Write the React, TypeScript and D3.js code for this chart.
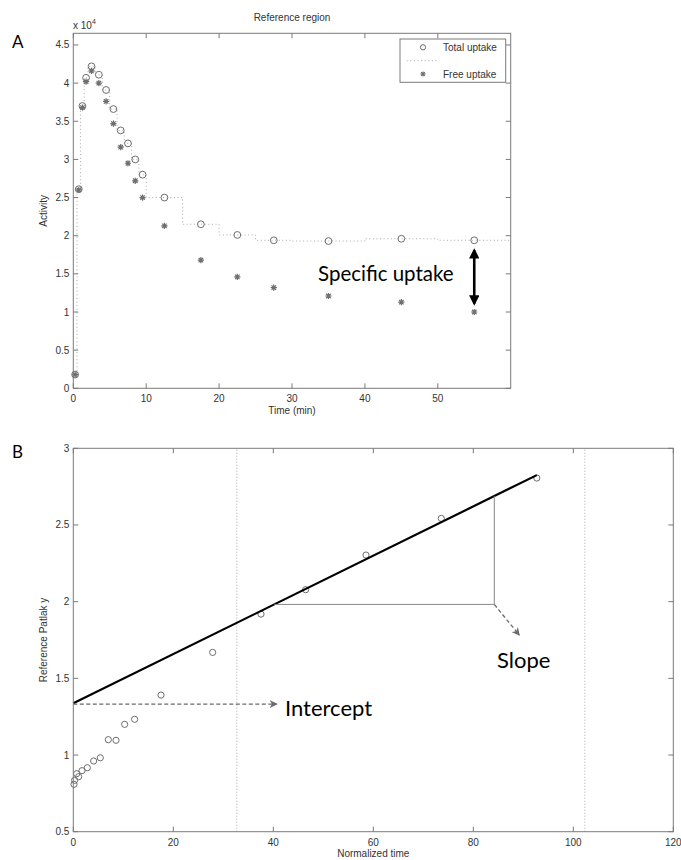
import React from 'react';
import * as d3 from 'd3';

// ---- panel A: reference region time-activity curve ----
const frameMid = [0.25, 0.75, 1.25, 1.75, 2.5, 3.5, 4.5, 5.5, 6.5, 7.5, 8.5, 9.5, 12.5, 17.5, 22.5, 27.5, 35, 45, 55];
const frameEdges = [0, 0.5, 1, 1.5, 2, 3, 4, 5, 6, 7, 8, 9, 10, 15, 20, 25, 30, 40, 50, 60];
const totalUptake = [1800, 26100, 37000, 40700, 42200, 41100, 39100, 36600, 33800, 32100, 30000, 28000, 25000, 21500, 20100, 19400, 19300, 19600, 19400];
const freeUptake = [1800, 26000, 36800, 40200, 41600, 40000, 37600, 34700, 31600, 29500, 27200, 25000, 21300, 16800, 14600, 13200, 12100, 11300, 10000];
const activityTicks = [0, 5000, 10000, 15000, 20000, 25000, 30000, 35000, 40000, 45000];
const timeTicks = [0, 10, 20, 30, 40, 50];
const specificAt = 55;
const specificRange = [18100, 11100];

// ---- panel B: reference Patlak plot ----
const normTime = [0.14, 0.27, 0.67, 1.07, 1.74, 2.8, 4.07, 5.4, 7.0, 8.54, 10.27, 12.27, 17.54, 27.87, 37.54, 46.47, 58.54, 73.6, 92.7];
const patlakY = [0.809, 0.835, 0.878, 0.859, 0.898, 0.917, 0.961, 0.982, 1.1, 1.096, 1.2, 1.233, 1.391, 1.669, 1.919, 2.078, 2.304, 2.543, 2.806];
const fitX = [0, 92.7];
const fitY = [1.337, 2.825];
const windowX = [32.7, 102.3];
const slopeX = [40.2, 84.2];
const slopeY = [1.982, 2.688];
const slopeArrowEnd = [89.2, 1.782];
const interceptArrow = [0, 40.7, 1.332];
const normTicks = [0, 20, 40, 60, 80, 100, 120];
const patlakTicks = [0.5, 1, 1.5, 2, 2.5, 3];

const AX = '#7a7a7a';
const TXT = '#333';
const MARK = '#6e6e6e';
const SANS = 'Liberation Sans, Arial, sans-serif';
const NOTE = 'Lato, Open Sans, sans-serif';
const TL = 5;

const asterisk = (x: number, y: number, r: number) => {
  const d = r * 0.72;
  return `M${x - r},${y}L${x + r},${y}M${x},${y - r}L${x},${y + r}M${x - d},${y - d}L${x + d},${y + d}M${x - d},${y + d}L${x + d},${y - d}`;
};

const Frame = ({ x, y, xt, yt, xf, yf }: any) => {
  const [x0, x1] = x.range();
  const [y0, y1] = y.range();
  return (
    <g>
      <rect x={x0} y={y1} width={x1 - x0} height={y0 - y1} fill="none" stroke={AX} strokeWidth={1} />
      {xt.map((t: number) => (
        <g key={'x' + t}>
          <line x1={x(t)} x2={x(t)} y1={y0} y2={y0 - TL} stroke={AX} />
          <line x1={x(t)} x2={x(t)} y1={y1} y2={y1 + TL} stroke={AX} />
          <text x={x(t)} y={y0 + 14} textAnchor="middle" fontSize={10} fill={TXT} fontFamily={SANS}>{xf(t)}</text>
        </g>
      ))}
      {yt.map((t: number) => (
        <g key={'y' + t}>
          <line x1={x0} x2={x0 + TL} y1={y(t)} y2={y(t)} stroke={AX} />
          <line x1={x1} x2={x1 - TL} y1={y(t)} y2={y(t)} stroke={AX} />
          <text x={x0 - 4} y={y(t) + 3.5} textAnchor="end" fontSize={10} fill={TXT} fontFamily={SANS}>{yf(t)}</text>
        </g>
      ))}
    </g>
  );
};

export default function App() {
  // panel A scales
  const xA = d3.scaleLinear().domain([0, 60]).range([73.3, 510.7]);
  const yA = d3.scaleLinear().domain([0, 46530]).range([388.3, 33.3]);
  // panel B scales
  const xB = d3.scaleLinear().domain([0, 120]).range([73.3, 673.3]);
  const yB = d3.scaleLinear().domain([0.5, 3]).range([831.7, 448.3]);

  const stairPts: [number, number][] = frameEdges.map((e, i) => [e, totalUptake[Math.min(i, totalUptake.length - 1)]]);
  const stairs = d3.line<[number, number]>().x(d => xA(d[0])).y(d => yA(d[1])).curve(d3.curveStepAfter)(stairPts) || '';

  const fitPath = d3.line<number>().x(d => xB(d)).y((_, i) => yB(fitY[i]))(fitX) || '';

  const topX = (xA.range()[0] + xA.range()[1]) / 2;
  const topY = (yA.range()[0] + yA.range()[1]) / 2;
  const botX = (xB.range()[0] + xB.range()[1]) / 2;
  const botY = (yB.range()[0] + yB.range()[1]) / 2;

  return (
    <svg width={681} height={860} style={{ position: 'absolute', left: 0, top: 0, background: '#fff' }}>
      <defs>
        <marker id="blk" viewBox="0 0 10 10" refX={8} refY={5} markerWidth={4} markerHeight={4} orient="auto-start-reverse">
          <path d="M0,0L10,5L0,10z" fill="#000" />
        </marker>
        <marker id="gry" viewBox="0 0 10 10" refX={9} refY={5} markerWidth={8} markerHeight={8} markerUnits="userSpaceOnUse" orient="auto">
          <path d="M0,0L10,5L0,10L3,5z" fill="#6a6a6a" />
        </marker>
      </defs>

      {/* ---------- A ---------- */}
      <text x={12} y={48} fontSize={17} fontFamily={NOTE}>A</text>
      <text x={topX} y={21} textAnchor="middle" fontSize={10} fill={TXT} fontFamily={SANS}>Reference region</text>
      <text x={73} y={29} fontSize={10} fill={TXT} fontFamily={SANS}>x 10<tspan dy={-5} fontSize={7}>4</tspan></text>

      <path d={stairs} fill="none" stroke="#aaa" strokeWidth={1} strokeDasharray="1 2.6" />
      {frameMid.map((t, i) => (
        <circle key={'c' + i} cx={xA(t)} cy={yA(totalUptake[i])} r={3.4} fill="none" stroke={MARK} strokeWidth={1} />
      ))}
      {frameMid.map((t, i) => (
        <path key={'s' + i} d={asterisk(xA(t), yA(freeUptake[i]), 3.1)} stroke={MARK} strokeWidth={1.2} fill="none" />
      ))}

      <Frame x={xA} y={yA} xt={timeTicks} yt={activityTicks} xf={(t: number) => t} yf={(t: number) => t / 10000} />

      <text x={topX} y={414} textAnchor="middle" fontSize={10} fill={TXT} fontFamily={SANS}>Time (min)</text>
      <text transform={`translate(47,${topY}) rotate(-90)`} textAnchor="middle" fontSize={10} fill={TXT} fontFamily={SANS}>Activity</text>

      {/* legend */}
      <rect x={400} y={39} width={105.7} height={43.3} fill="#fff" stroke={AX} />
      <circle cx={423} cy={47.3} r={2.6} fill="none" stroke={MARK} />
      <text x={443} y={51} fontSize={10} fill={TXT} fontFamily={SANS}>Total uptake</text>
      <line x1={406.7} x2={437.7} y1={60.7} y2={60.7} stroke="#aaa" strokeDasharray="1 2.6" />
      <path d={asterisk(423, 74, 2.6)} stroke={MARK} strokeWidth={1.1} />
      <text x={443} y={77.5} fontSize={10} fill={TXT} fontFamily={SANS}>Free uptake</text>

      {/* specific uptake */}
      <line x1={xA(specificAt)} x2={xA(specificAt)} y1={yA(specificRange[0])} y2={yA(specificRange[1])}
        stroke="#000" strokeWidth={2.6} markerStart="url(#blk)" markerEnd="url(#blk)" />
      <text x={318} y={281} fontSize={20.5} fontFamily={NOTE} fill="#000">Specific uptake</text>

      {/* ---------- B ---------- */}
      <text x={12} y={458} fontSize={17} fontFamily={NOTE}>B</text>
      {windowX.map(w => (
        <line key={'w' + w} x1={xB(w)} x2={xB(w)} y1={yB(0.5)} y2={yB(3)} stroke="#aaa" strokeDasharray="1 2" />
      ))}
      {normTime.map((t, i) => (
        <circle key={'p' + i} cx={xB(t)} cy={yB(patlakY[i])} r={3.1} fill="none" stroke={MARK} strokeWidth={1} />
      ))}
      <path d={fitPath} fill="none" stroke="#000" strokeWidth={2.2} />

      {/* slope triangle */}
      <path d={`M${xB(slopeX[0])},${yB(slopeY[0])}L${xB(slopeX[1])},${yB(slopeY[0])}L${xB(slopeX[1])},${yB(slopeY[1])}`}
        fill="none" stroke="#888" strokeWidth={1} />
      <line x1={xB(slopeX[1])} y1={yB(slopeY[0])} x2={xB(slopeArrowEnd[0])} y2={yB(slopeArrowEnd[1])}
        stroke="#6a6a6a" strokeWidth={1.3} strokeDasharray="4 2.5" markerEnd="url(#gry)" />
      <text x={497} y={668} fontSize={22} fontFamily={NOTE} fill="#000">Slope</text>

      {/* intercept */}
      <line x1={xB(interceptArrow[0])} x2={xB(interceptArrow[1])} y1={yB(interceptArrow[2])} y2={yB(interceptArrow[2])}
        stroke="#6a6a6a" strokeWidth={1.3} strokeDasharray="4 2.5" markerEnd="url(#gry)" />
      <text x={285} y={716} fontSize={22} fontFamily={NOTE} fill="#000">Intercept</text>

      <Frame x={xB} y={yB} xt={normTicks} yt={patlakTicks} xf={(t: number) => t} yf={(t: number) => t} />

      <text x={botX} y={857} textAnchor="middle" fontSize={10} fill={TXT} fontFamily={SANS}>Normalized time</text>
      <text transform={`translate(47,${botY}) rotate(-90)`} textAnchor="middle" fontSize={10} fill={TXT} fontFamily={SANS}>Reference Patlak y</text>
    </svg>
  );
}
